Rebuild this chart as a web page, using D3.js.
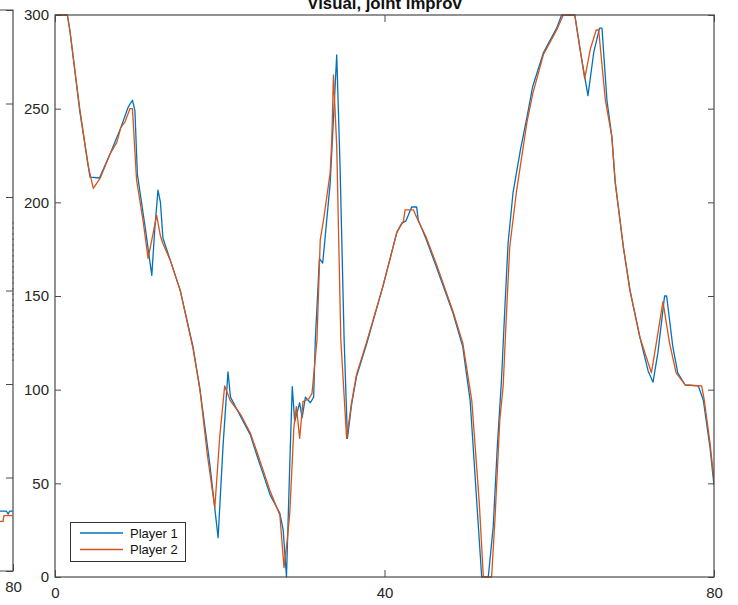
<!DOCTYPE html>
<html>
<head>
<meta charset="utf-8">
<script src="https://cdn.jsdelivr.net/npm/d3@7"></script>
<style>
  body { margin: 0; background: #fff; }
  svg { display: block; font-family: "Liberation Sans", Arial, sans-serif; }
</style>
</head>
<body>
<svg id="chart" width="738" height="605"></svg>
<script>
// player traces (time in s, value)
const p1Time = [0, 1.5, 1.8, 3.0, 4.25, 5.4, 6.7, 8.0, 8.9, 9.4, 9.7, 10.0, 11.0, 11.75, 12.1, 12.5, 12.8, 13.1, 14.0, 15.2, 16.75, 17.6, 18.8, 19.8, 20.4, 21.0, 21.3, 22.5, 23.7, 24.5, 25.5, 26.1, 27.3, 27.7, 28.1, 28.5, 28.8, 29.1, 29.7, 30.0, 30.4, 31.0, 31.4, 31.6, 32.1, 32.5, 33.4, 34.2, 34.6, 35.1, 35.5, 36.0, 36.6, 37.8, 39.8, 41.5, 42.1, 42.6, 43.3, 43.9, 44.1, 45.0, 46.3, 48.3, 49.5, 50.4, 51.2, 51.8, 52.6, 53.2, 53.7, 54.2, 54.6, 55.0, 55.6, 56.5, 57.3, 58.0, 59.3, 60.9, 61.5, 63.1, 63.8, 64.7, 65.4, 66.1, 66.4, 67.0, 67.6, 68.0, 69.0, 69.8, 71.0, 72.0, 72.6, 73.2, 74.0, 74.25, 75.0, 75.6, 76.5, 78.1, 78.7, 79.5, 80];
const p1Value = [300, 300, 292, 249, 213.5, 213, 226, 240, 251, 254.5, 249, 215, 185, 161, 185, 206.5, 200, 181, 169, 153, 123, 100, 60, 21, 70, 109.5, 96, 86, 76, 65, 52, 44, 34, 25, 0, 60, 101.6, 83, 93, 85, 96, 93, 96, 126.5, 170, 167.6, 210, 278.7, 220, 126.5, 74, 92, 107, 124, 155, 184, 189, 190, 197.5, 197.5, 190.6, 181, 165.5, 141, 123, 94, 40, 0, 0, 27, 70, 105, 142.5, 178, 205, 228, 245.6, 262, 280, 293, 300, 300, 280, 257, 280, 293, 293, 254.6, 235, 211, 176, 153, 128, 110, 104, 120, 150, 150, 123, 109, 102.5, 102, 94.5, 69.6, 49];

const p2Time = [0, 1.5, 1.8, 3.0, 4.0, 4.65, 5.5, 6.7, 7.5, 8.0, 8.5, 9.1, 9.4, 9.9, 10.7, 11.3, 12.34, 12.8, 13.1, 14.0, 15.2, 16.75, 17.6, 18.5, 19.4, 20.0, 20.6, 21.3, 22.5, 23.7, 24.5, 25.5, 26.1, 27.3, 27.8, 28.2, 28.5, 29.0, 29.3, 29.7, 30.1, 30.8, 31.2, 31.8, 32.2, 32.6, 33.4, 33.6, 33.8, 34.2, 34.7, 35.4, 36.0, 36.6, 37.8, 39.8, 41.5, 42.3, 42.5, 43.5, 43.9, 44.1, 45.0, 46.3, 48.3, 49.5, 50.6, 51.5, 52.0, 53.0, 53.4, 54.0, 54.4, 54.8, 55.2, 56.0, 57.3, 58.0, 59.3, 60.9, 61.7, 63.1, 64.3, 65.0, 65.7, 66.0, 66.8, 67.6, 68.0, 69.0, 69.8, 71.0, 72.4, 73.0, 73.8, 74.6, 75.4, 76.5, 78.5, 78.8, 79.5, 80];
const p2Value = [300, 300, 292, 250, 220, 207.5, 213, 226, 232, 240, 243, 250, 250, 212, 190, 170, 193, 182, 178, 169, 153, 122, 100, 65, 37, 75, 102, 94, 87, 77, 67, 54, 46, 33, 5, 20, 34, 80, 91, 74, 93.6, 95, 98, 126.5, 180, 190.6, 215.6, 233, 268, 230, 126.5, 74, 93, 108, 125, 155, 184, 190, 196, 196, 192, 190, 182, 167, 142, 125, 94, 40, 0, 0, 30, 84, 101.6, 140, 176, 205, 243, 258, 279, 292, 300, 300, 266, 282, 292, 292, 255, 235, 211, 176, 153, 128, 109, 125, 147, 125, 109, 102.5, 102, 95, 72, 52];

// the neighbouring subplot that is cut off at the left edge
const leftP1Time = [78.3, 79.2, 79.4, 79.6, 80];
const leftP1Value = [32, 32, 30.5, 32, 32];
const leftP2Time = [78.3, 78.8, 78.9, 80];
const leftP2Value = [26.5, 26.5, 29.6, 29.6];

const seriesNames = ["Player 1", "Player 2"];
const seriesColors = ["#0072BD", "#D95319"];
const xTicks = [0, 40, 80];
const yTicks = [0, 50, 100, 150, 200, 250, 300];
const title = "Visual, joint improv";

const axisColor = "#4a4a4a";
const textColor = "#262626";

const svg = d3.select("#chart");
svg.append("rect").attr("width", 738).attr("height", 605).attr("fill", "#fff");

const x = d3.scaleLinear().domain([0, 80]).range([55, 714]);
const y = d3.scaleLinear().domain([0, 300]).range([577, 15]);

const xLeft = d3.scaleLinear().domain([0, 80]).range([13 - 659, 13]);
const yLeft = d3.scaleLinear().domain([0, 300]).range([571, 10]);

const styleAxis = g => {
  g.select(".domain").remove();
  g.selectAll(".tick line").attr("stroke", axisColor).attr("stroke-width", 1);
  g.selectAll(".tick text")
    .attr("fill", textColor)
    .style("font-size", "15px");
};

// left, cut-off subplot
const drawLeftPanel = () => {
  const g = svg.append("g");
  g.append("path")
    .attr("d", `M0,${yLeft(300)}H${xLeft(80)}V${yLeft(0)}H0`)
    .attr("fill", "none")
    .attr("stroke", axisColor)
    .attr("stroke-width", 1.2);

  g.append("g")
    .attr("transform", `translate(${xLeft(80)},0)`)
    .call(d3.axisRight(yLeft).tickValues(yTicks).tickSize(-7).tickFormat(""))
    .call(styleAxis);

  g.append("g")
    .attr("transform", `translate(0,${yLeft(0)})`)
    .call(d3.axisBottom(xLeft).tickValues([80]).tickSize(-7).tickPadding(10))
    .call(styleAxis);

  const leftLine = d3.line().x(d => xLeft(d[0])).y(d => yLeft(d[1]));
  g.append("path")
    .datum(d3.zip(leftP1Time, leftP1Value))
    .attr("d", leftLine)
    .attr("fill", "none")
    .attr("stroke", seriesColors[0])
    .attr("stroke-width", 1.3);
  g.append("path")
    .datum(d3.zip(leftP2Time, leftP2Value))
    .attr("d", leftLine)
    .attr("fill", "none")
    .attr("stroke", seriesColors[1])
    .attr("stroke-width", 1.3);

  // y label of the main axes, almost entirely hidden behind the left panel
  g.append("line")
    .attr("x1", 13).attr("x2", 13)
    .attr("y1", 222).attr("y2", 365)
    .attr("stroke", "#555")
    .attr("stroke-width", 1.2)
    .attr("stroke-dasharray", "1.5,4");
};

const drawMain = () => {
  svg.append("defs")
    .append("clipPath")
    .attr("id", "plotClip")
    .append("rect")
    .attr("x", 55).attr("y", 14)
    .attr("width", 659).attr("height", 564);

  const line = d3.line().x(d => x(d[0])).y(d => y(d[1]));

  const traces = [
    d3.zip(p1Time, p1Value),
    d3.zip(p2Time, p2Value)
  ];

  svg.append("g")
    .attr("clip-path", "url(#plotClip)")
    .selectAll("path")
    .data(traces)
    .enter()
    .append("path")
    .attr("d", line)
    .attr("fill", "none")
    .attr("stroke", (d, i) => seriesColors[i])
    .attr("stroke-width", 1.3)
    .attr("stroke-linejoin", "round");

  // box
  svg.append("rect")
    .attr("x", 55).attr("y", 15)
    .attr("width", 659).attr("height", 562)
    .attr("fill", "none")
    .attr("stroke", axisColor)
    .attr("stroke-width", 1.2);

  svg.append("g")
    .attr("transform", "translate(55,0)")
    .call(d3.axisLeft(y).tickValues(yTicks).tickSize(-6).tickPadding(6))
    .call(styleAxis);

  svg.append("g")
    .attr("transform", "translate(714,0)")
    .call(d3.axisRight(y).tickValues(yTicks).tickSize(-6).tickFormat(""))
    .call(styleAxis);

  svg.append("g")
    .attr("transform", "translate(0,577)")
    .call(d3.axisBottom(x).tickValues(xTicks).tickSize(-7).tickPadding(10))
    .call(styleAxis);

  svg.append("g")
    .attr("transform", "translate(0,15)")
    .call(d3.axisTop(x).tickValues(xTicks).tickSize(-7).tickFormat(""))
    .call(styleAxis);

  // title is cut off at the top edge, as in the source figure
  svg.append("text")
    .attr("x", x(40))
    .attr("y", 9)
    .attr("text-anchor", "middle")
    .attr("fill", "#111")
    .style("font-size", "16.8px")
    .style("font-weight", "bold")
    .text(title);
};

const drawLegend = () => {
  const lg = svg.append("g");
  lg.append("rect")
    .attr("x", 70.5).attr("y", 522.5)
    .attr("width", 115).attr("height", 39)
    .attr("fill", "#fff")
    .attr("stroke", "#333")
    .attr("stroke-width", 1);

  const rows = lg.selectAll(".entry")
    .data(seriesNames)
    .enter()
    .append("g")
    .attr("class", "entry")
    .attr("transform", (d, i) => `translate(0,${533 + i * 16.5})`);

  rows.append("line")
    .attr("x1", 80).attr("x2", 123)
    .attr("stroke", (d, i) => seriesColors[i])
    .attr("stroke-width", 1.3);

  rows.append("text")
    .attr("x", 130)
    .attr("dy", "0.35em")
    .attr("fill", "#111")
    .style("font-size", "13px")
    .text(d => d);
};

drawLeftPanel();
drawMain();
drawLegend();
</script>
</body>
</html>
